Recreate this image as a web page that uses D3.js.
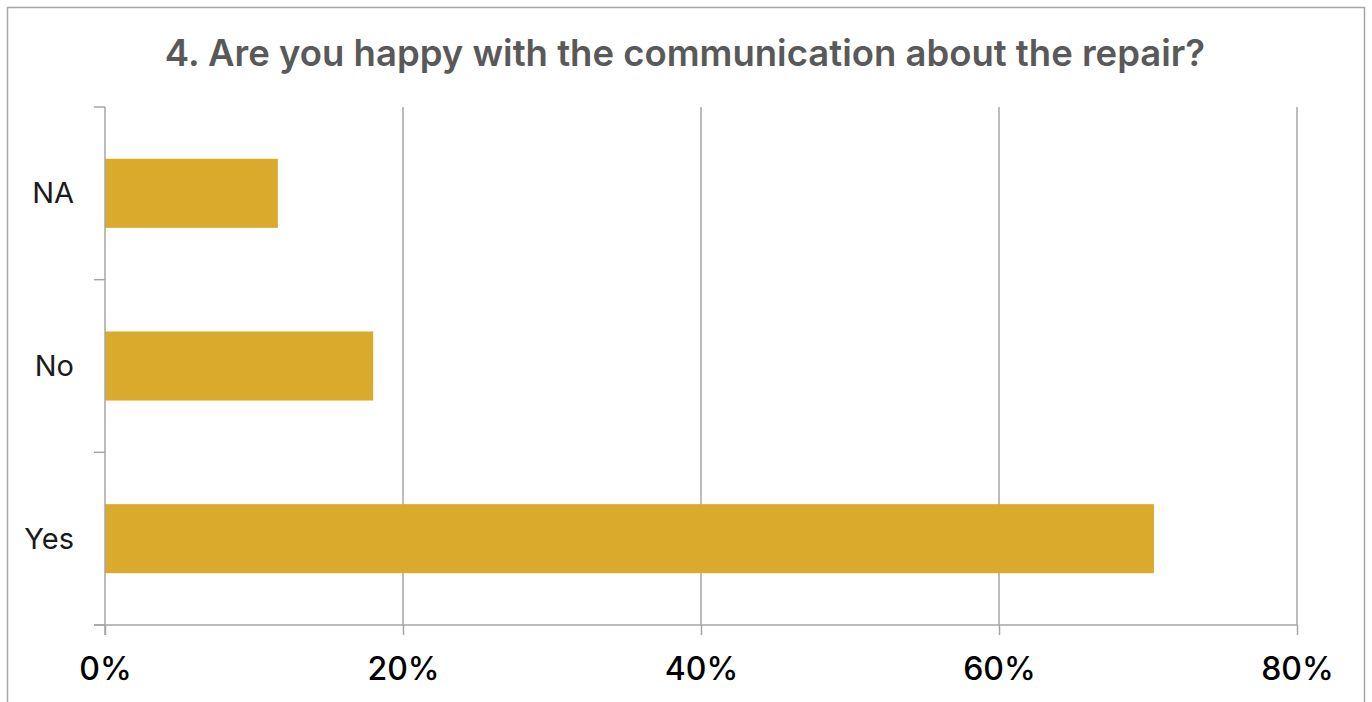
<!DOCTYPE html>
<html>
<head>
<meta charset="utf-8">
<script src="https://cdn.jsdelivr.net/npm/d3@7"></script>
<style>
  html, body { margin: 0; padding: 0; background: #fff; }
  svg { display: block; }
</style>
</head>
<body>
<svg id="chart" width="1372" height="702"></svg>
<script>
// Survey answers and their shares (percent)
const categories = ["NA", "No", "Yes"];
const shares = [11.6, 18.0, 70.4];
const tickValues = [0, 20, 40, 60, 80];
const chartTitle = "4. Are you happy with the communication about the repair?";

const svg = d3.select("#chart");
const plot = { left: 105, right: 1297, top: 107, bottom: 625 };

// outer frame
svg.append("rect")
  .attr("x", 7.5).attr("y", 7.5)
  .attr("width", 1357).attr("height", 710)
  .attr("fill", "#fff")
  .attr("stroke", "#a6a6a6").attr("stroke-width", 1.5);

// title
svg.append("text")
  .attr("x", 685).attr("y", 66)
  .attr("text-anchor", "middle")
  .attr("font-family", "Inter, 'Open Sans', sans-serif")
  .attr("font-weight", 600)
  .attr("font-size", 36.5)
  .attr("fill", "#595959")
  .text(chartTitle);

const x = d3.scaleLinear().domain([0, 80]).range([plot.left, plot.right]);
const y = d3.scaleBand().domain(categories).range([plot.top, plot.bottom])
  .paddingInner(0.6).paddingOuter(0.3);

// vertical gridlines
svg.append("g")
  .selectAll("line")
  .data(tickValues.slice(1))
  .join("line")
  .attr("x1", d => x(d)).attr("x2", d => x(d))
  .attr("y1", plot.top).attr("y2", plot.bottom)
  .attr("stroke", "#a6a6a6").attr("stroke-width", 1.5);

// bars
svg.append("g")
  .selectAll("rect")
  .data(categories.map((c, i) => ({ c, v: shares[i] })))
  .join("rect")
  .attr("x", x(0))
  .attr("y", d => y(d.c))
  .attr("width", d => x(d.v) - x(0))
  .attr("height", y.bandwidth())
  .attr("fill", "#d9aa2b");

// x axis
const xAxis = svg.append("g")
  .attr("transform", `translate(0,${plot.bottom})`)
  .call(d3.axisBottom(x).tickValues(tickValues).tickFormat(d => d + "%")
    .tickSize(10).tickSizeOuter(0).tickPadding(22));
xAxis.select(".domain").remove();
xAxis.append("line")
  .attr("x1", plot.left - 11).attr("x2", plot.right)
  .attr("stroke", "#a6a6a6").attr("stroke-width", 1.5);
xAxis.selectAll(".tick line").attr("stroke", "#a6a6a6").attr("stroke-width", 1.5);
xAxis.selectAll(".tick text")
  .attr("font-family", "Inter, 'Open Sans', sans-serif")
  .attr("font-weight", 500)
  .attr("font-size", 32)
  .attr("fill", "#000");

// y axis with category boundary ticks
const yg = svg.append("g");
yg.append("line")
  .attr("x1", plot.left).attr("x2", plot.left)
  .attr("y1", plot.top).attr("y2", plot.bottom + 10)
  .attr("stroke", "#a6a6a6").attr("stroke-width", 1.5);
const bounds = d3.range(categories.length + 1).map(i =>
  plot.top + i * (plot.bottom - plot.top) / categories.length);
yg.selectAll("line.b")
  .data(bounds)
  .join("line").attr("class", "b")
  .attr("x1", plot.left - 11).attr("x2", plot.left)
  .attr("y1", d => d).attr("y2", d => d)
  .attr("stroke", "#a6a6a6").attr("stroke-width", 1.5);
yg.selectAll("text")
  .data(categories)
  .join("text")
  .attr("x", 74)
  .attr("y", d => y(d) + y.bandwidth() / 2)
  .attr("dy", "0.35em")
  .attr("text-anchor", "end")
  .attr("font-family", "Inter, 'Open Sans', sans-serif")
  .attr("font-size", 29)
  .attr("fill", "#1a1a1a")
  .text(d => d);
</script>
</body>
</html>
